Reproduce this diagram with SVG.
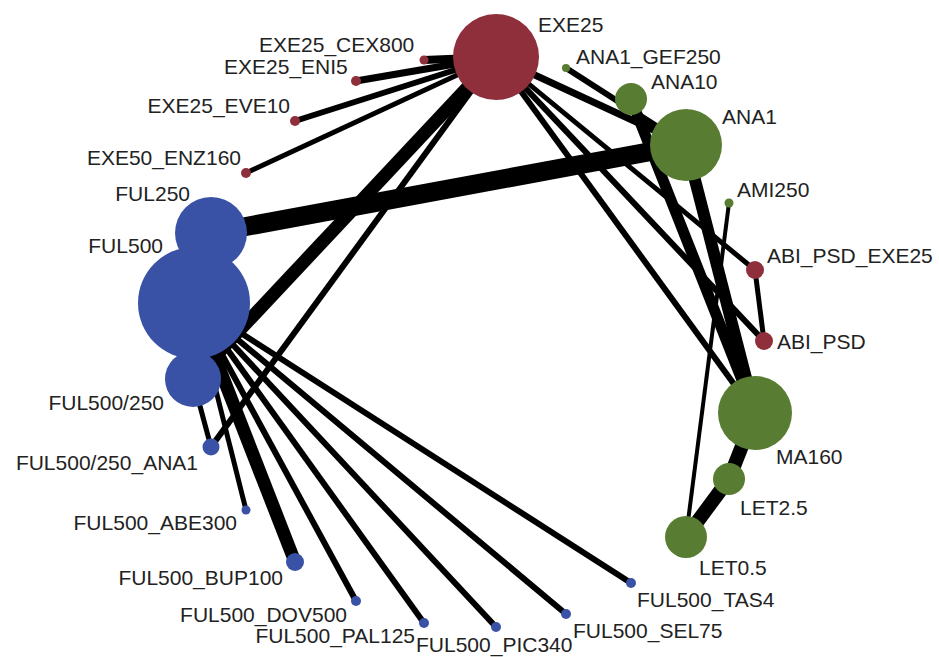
<svg xmlns="http://www.w3.org/2000/svg" width="939" height="657" viewBox="0 0 939 657">
<style>
.e{stroke:#000;fill:none;stroke-linecap:butt}
.r{fill:#8E2F3B}
.g{fill:#587D32}
.b{fill:#3A52A6}
text{font-family:"Liberation Sans",Arial,sans-serif;font-size:21px;fill:#222}
.end{text-anchor:end}
</style>
<rect width="939" height="657" fill="#fff"/>
<g id="edges">
<line class="e" x1="496" y1="57" x2="424" y2="60" stroke-width="8"/>
<line class="e" x1="496" y1="57" x2="356" y2="81" stroke-width="7"/>
<line class="e" x1="496" y1="57" x2="295" y2="121" stroke-width="6"/>
<line class="e" x1="496" y1="57" x2="246" y2="173" stroke-width="5"/>
<line class="e" x1="496" y1="57" x2="193" y2="380" stroke-width="13"/>
<line class="e" x1="496" y1="57" x2="211" y2="447" stroke-width="6"/>
<line class="e" x1="496" y1="57" x2="686" y2="145" stroke-width="7"/>
<line class="e" x1="496" y1="57" x2="755" y2="270" stroke-width="5"/>
<line class="e" x1="496" y1="57" x2="764" y2="341" stroke-width="6"/>
<line class="e" x1="496" y1="57" x2="755" y2="413" stroke-width="6"/>
<line class="e" x1="566" y1="68" x2="686" y2="145" stroke-width="6"/>
<line class="e" x1="631" y1="99" x2="755" y2="413" stroke-width="11"/>
<line class="e" x1="686" y1="145" x2="755" y2="413" stroke-width="12"/>
<line class="e" x1="211" y1="233" x2="686" y2="145" stroke-width="19"/>
<line class="e" x1="755" y1="270" x2="764" y2="341" stroke-width="5"/>
<line class="e" x1="729" y1="203" x2="686" y2="537" stroke-width="4"/>
<line class="e" x1="755" y1="413" x2="729" y2="479" stroke-width="14"/>
<line class="e" x1="729" y1="479" x2="686" y2="537" stroke-width="14"/>
<line class="e" x1="193" y1="380" x2="211" y2="447" stroke-width="5"/>
<line class="e" x1="194" y1="303" x2="246" y2="510" stroke-width="5"/>
<line class="e" x1="194" y1="303" x2="295" y2="562" stroke-width="13"/>
<line class="e" x1="194" y1="303" x2="356" y2="601" stroke-width="6"/>
<line class="e" x1="194" y1="303" x2="424" y2="623" stroke-width="6"/>
<line class="e" x1="194" y1="303" x2="496" y2="627" stroke-width="6"/>
<line class="e" x1="194" y1="303" x2="566" y2="614" stroke-width="6"/>
<line class="e" x1="194" y1="303" x2="631" y2="583" stroke-width="6"/>
</g>
<g id="n-EXE25"><circle class="r" cx="496" cy="57" r="43"/><text x="538" y="32">EXE25</text></g>
<g id="n-EXE25_CEX800"><circle class="r" cx="424" cy="60" r="4.5"/><text x="259" y="52">EXE25_CEX800</text></g>
<g id="n-EXE25_ENI5"><circle class="r" cx="356" cy="81" r="5"/><text x="224" y="74">EXE25_ENI5</text></g>
<g id="n-EXE25_EVE10"><circle class="r" cx="295" cy="121" r="5"/><text class="end" x="290" y="113">EXE25_EVE10</text></g>
<g id="n-EXE50_ENZ160"><circle class="r" cx="246" cy="173" r="5"/><text class="end" x="241" y="165">EXE50_ENZ160</text></g>
<g id="n-FUL250"><circle class="b" cx="211" cy="233" r="36"/><text class="end" x="190" y="201">FUL250</text></g>
<g id="n-FUL500"><circle class="b" cx="194" cy="303" r="56"/><text class="end" x="163" y="253">FUL500</text></g>
<g id="n-FUL500_250"><circle class="b" cx="193" cy="379" r="28"/><text class="end" x="164" y="410">FUL500/250</text></g>
<g id="n-FUL500_250_ANA1"><circle class="b" cx="211" cy="447" r="8.5"/><text class="end" x="198" y="470">FUL500/250_ANA1</text></g>
<g id="n-FUL500_ABE300"><circle class="b" cx="246" cy="510" r="4.5"/><text class="end" x="237" y="530">FUL500_ABE300</text></g>
<g id="n-FUL500_BUP100"><circle class="b" cx="295" cy="562" r="9"/><text class="end" x="283" y="585">FUL500_BUP100</text></g>
<g id="n-FUL500_DOV500"><circle class="b" cx="356" cy="601" r="5"/><text class="end" x="347" y="622">FUL500_DOV500</text></g>
<g id="n-FUL500_PAL125"><circle class="b" cx="424" cy="623" r="5"/><text class="end" x="415" y="643">FUL500_PAL125</text></g>
<g id="n-FUL500_PIC340"><circle class="b" cx="496" cy="627" r="5"/><text x="416" y="652">FUL500_PIC340</text></g>
<g id="n-FUL500_SEL75"><circle class="b" cx="566" cy="614" r="5"/><text x="573" y="638">FUL500_SEL75</text></g>
<g id="n-FUL500_TAS4"><circle class="b" cx="631" cy="583" r="5"/><text x="637" y="607">FUL500_TAS4</text></g>
<g id="n-LET0.5"><circle class="g" cx="686" cy="537" r="21"/><text x="699" y="575">LET0.5</text></g>
<g id="n-LET2.5"><circle class="g" cx="729" cy="479" r="16"/><text x="740" y="515">LET2.5</text></g>
<g id="n-MA160"><circle class="g" cx="755" cy="413" r="37"/><text x="776" y="464">MA160</text></g>
<g id="n-ABI_PSD"><circle class="r" cx="764" cy="341" r="9"/><text x="777" y="349">ABI_PSD</text></g>
<g id="n-ABI_PSD_EXE25"><circle class="r" cx="755" cy="270" r="9"/><text x="767" y="263">ABI_PSD_EXE25</text></g>
<g id="n-AMI250"><circle class="g" cx="729" cy="203" r="4.5"/><text x="737" y="197">AMI250</text></g>
<g id="n-ANA1"><circle class="g" cx="686" cy="145" r="36"/><text x="722" y="124">ANA1</text></g>
<g id="n-ANA10"><circle class="g" cx="631" cy="99" r="16"/><text x="651" y="89">ANA10</text></g>
<g id="n-ANA1_GEF250"><circle class="g" cx="566" cy="68" r="4"/><text x="576" y="64">ANA1_GEF250</text></g>
</svg>
